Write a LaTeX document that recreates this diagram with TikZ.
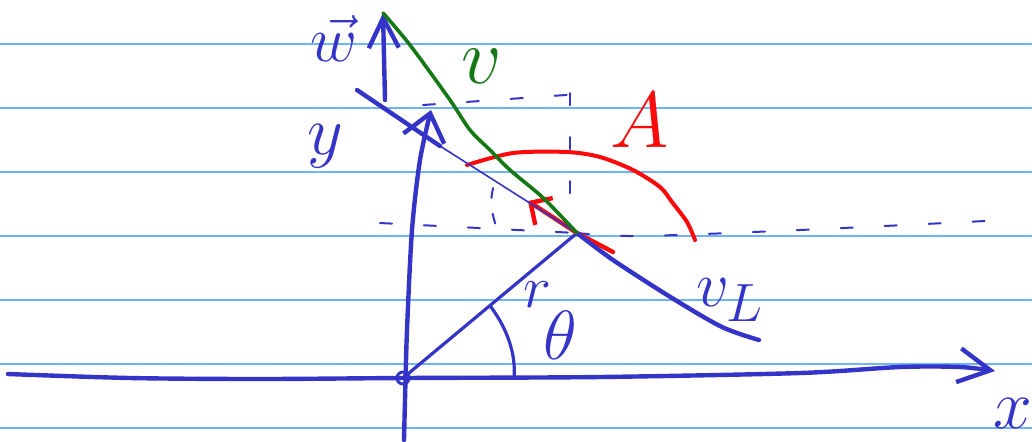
\documentclass[tikz,border=0pt]{standalone}
\usepackage{amsmath}
\usepackage{tikz}
\usetikzlibrary{arrows.meta, positioning, calc}
\definecolor{inkblue}{RGB}{52,52,200}
\definecolor{inkgreen}{RGB}{20,120,20}
\definecolor{inkred}{RGB}{250,10,10}
\definecolor{ruled}{RGB}{110,180,250}

\begin{document}
\begin{tikzpicture}[x=0.5pt, y=-0.5pt, line cap=round, line join=round,
  ink/.style={inkblue, line width=2.2pt},
  thinink/.style={inkblue, line width=0.8pt},
  guide/.style={inkblue, line width=1pt, dash pattern=on 6pt off 16pt},
  lbl/.style={inner sep=0pt, font=\Huge, scale=#1},
  lbl/.default=1.4]
\useasboundingbox (0,0) rectangle (1032,441);
% ruled paper
\foreach \ry in {44,108,...,428}
  \draw[ruled, line width=0.6pt] (0,\ry) -- (1032,\ry);

\coordinate (O) at (403,378);
\coordinate (P) at (577,233);
\coordinate (W) at (383,13);
\coordinate (Wb) at (385,100);
\coordinate (Ytop) at (431,110);
\coordinate (Xend) at (995,371);

% dashed guides
\draw[guide] (380,223) -- (P);
\draw[guide] plot[smooth] coordinates {(P) (640,236) (800,230) (985,221)};
\draw[guide] (570,93) -- (570,228);
\draw[guide] (423,105) -- (580,94);
\draw[guide, dash pattern=on 5pt off 8pt] (493,188) .. controls (490,205) .. (497,230);

% axes
\draw[ink, -{Straight Barb[length=16pt, width=17pt]}] plot[smooth] coordinates {(8,374) (130,378) (260,379) (O) (600,377) (800,373) (900,367) (960,367) (Xend)};
\draw[ink, -{Straight Barb[length=13pt, width=21pt]}] plot[smooth] coordinates {(404,440) (405,400) (407,330) (412,230) (420,160) (Ytop)};
\draw[ink, line width=1.5pt] (O) circle[radius=3pt];

% r and angle
\draw[ink, line width=1.6pt] (O) -- (P);
\draw[ink, line width=1.6pt] (491,307) .. controls (508,330) and (516,355) .. (514,378);

% red arrows
\draw[inkred, line width=2pt] plot[smooth] coordinates {(467,165) (513,153) (567,152) (600,157) (633,170) (660,187) (672,202) (687,222) (695,240)};
\draw[inkred, line width=2.2pt, -{Straight Barb[length=8pt, width=16pt]}] (613,252) -- (P) -- (528,201);

% line through P
\draw[ink] (357,90) -- (440,146);
\draw[thinink] (440,146) -- (P);
\draw[ink] plot[smooth] coordinates {(P) (613,260) (672,298) (722,327) (759,340)};

% w and v
\draw[ink, -{Straight Barb[length=15pt, width=15pt]}] (Wb) -- (W);
\draw[inkgreen, line width=1.8pt] plot[smooth] coordinates {(W) (410,45) (450,100) (470,130) (490,150) (510,170) (540,195) (560,215) (P)};

% labels
\node[lbl, inkblue] (ylab) at (325,146) {$y$};
\node[lbl, inkblue] (xlab) at (1013,413) {$x$};
\node[lbl=1.3, inkblue] (wlab) at (334,38) {$\vec{w}$};
\node[lbl=1.6, inkgreen] (vlab) at (482,66) {$v$};
\node[lbl=1.6, inkred] (alab) at (640,120) {$A$};
\node[lbl=1.2, inkblue] (rlab) at (537,295) {$r$};
\node[lbl=1.4, inkblue] (thlab) at (560,335) {$\theta$};
\node[lbl=1.3, inkblue] (vllab) at (730,300) {$v_L$};
\end{tikzpicture}
\end{document}
